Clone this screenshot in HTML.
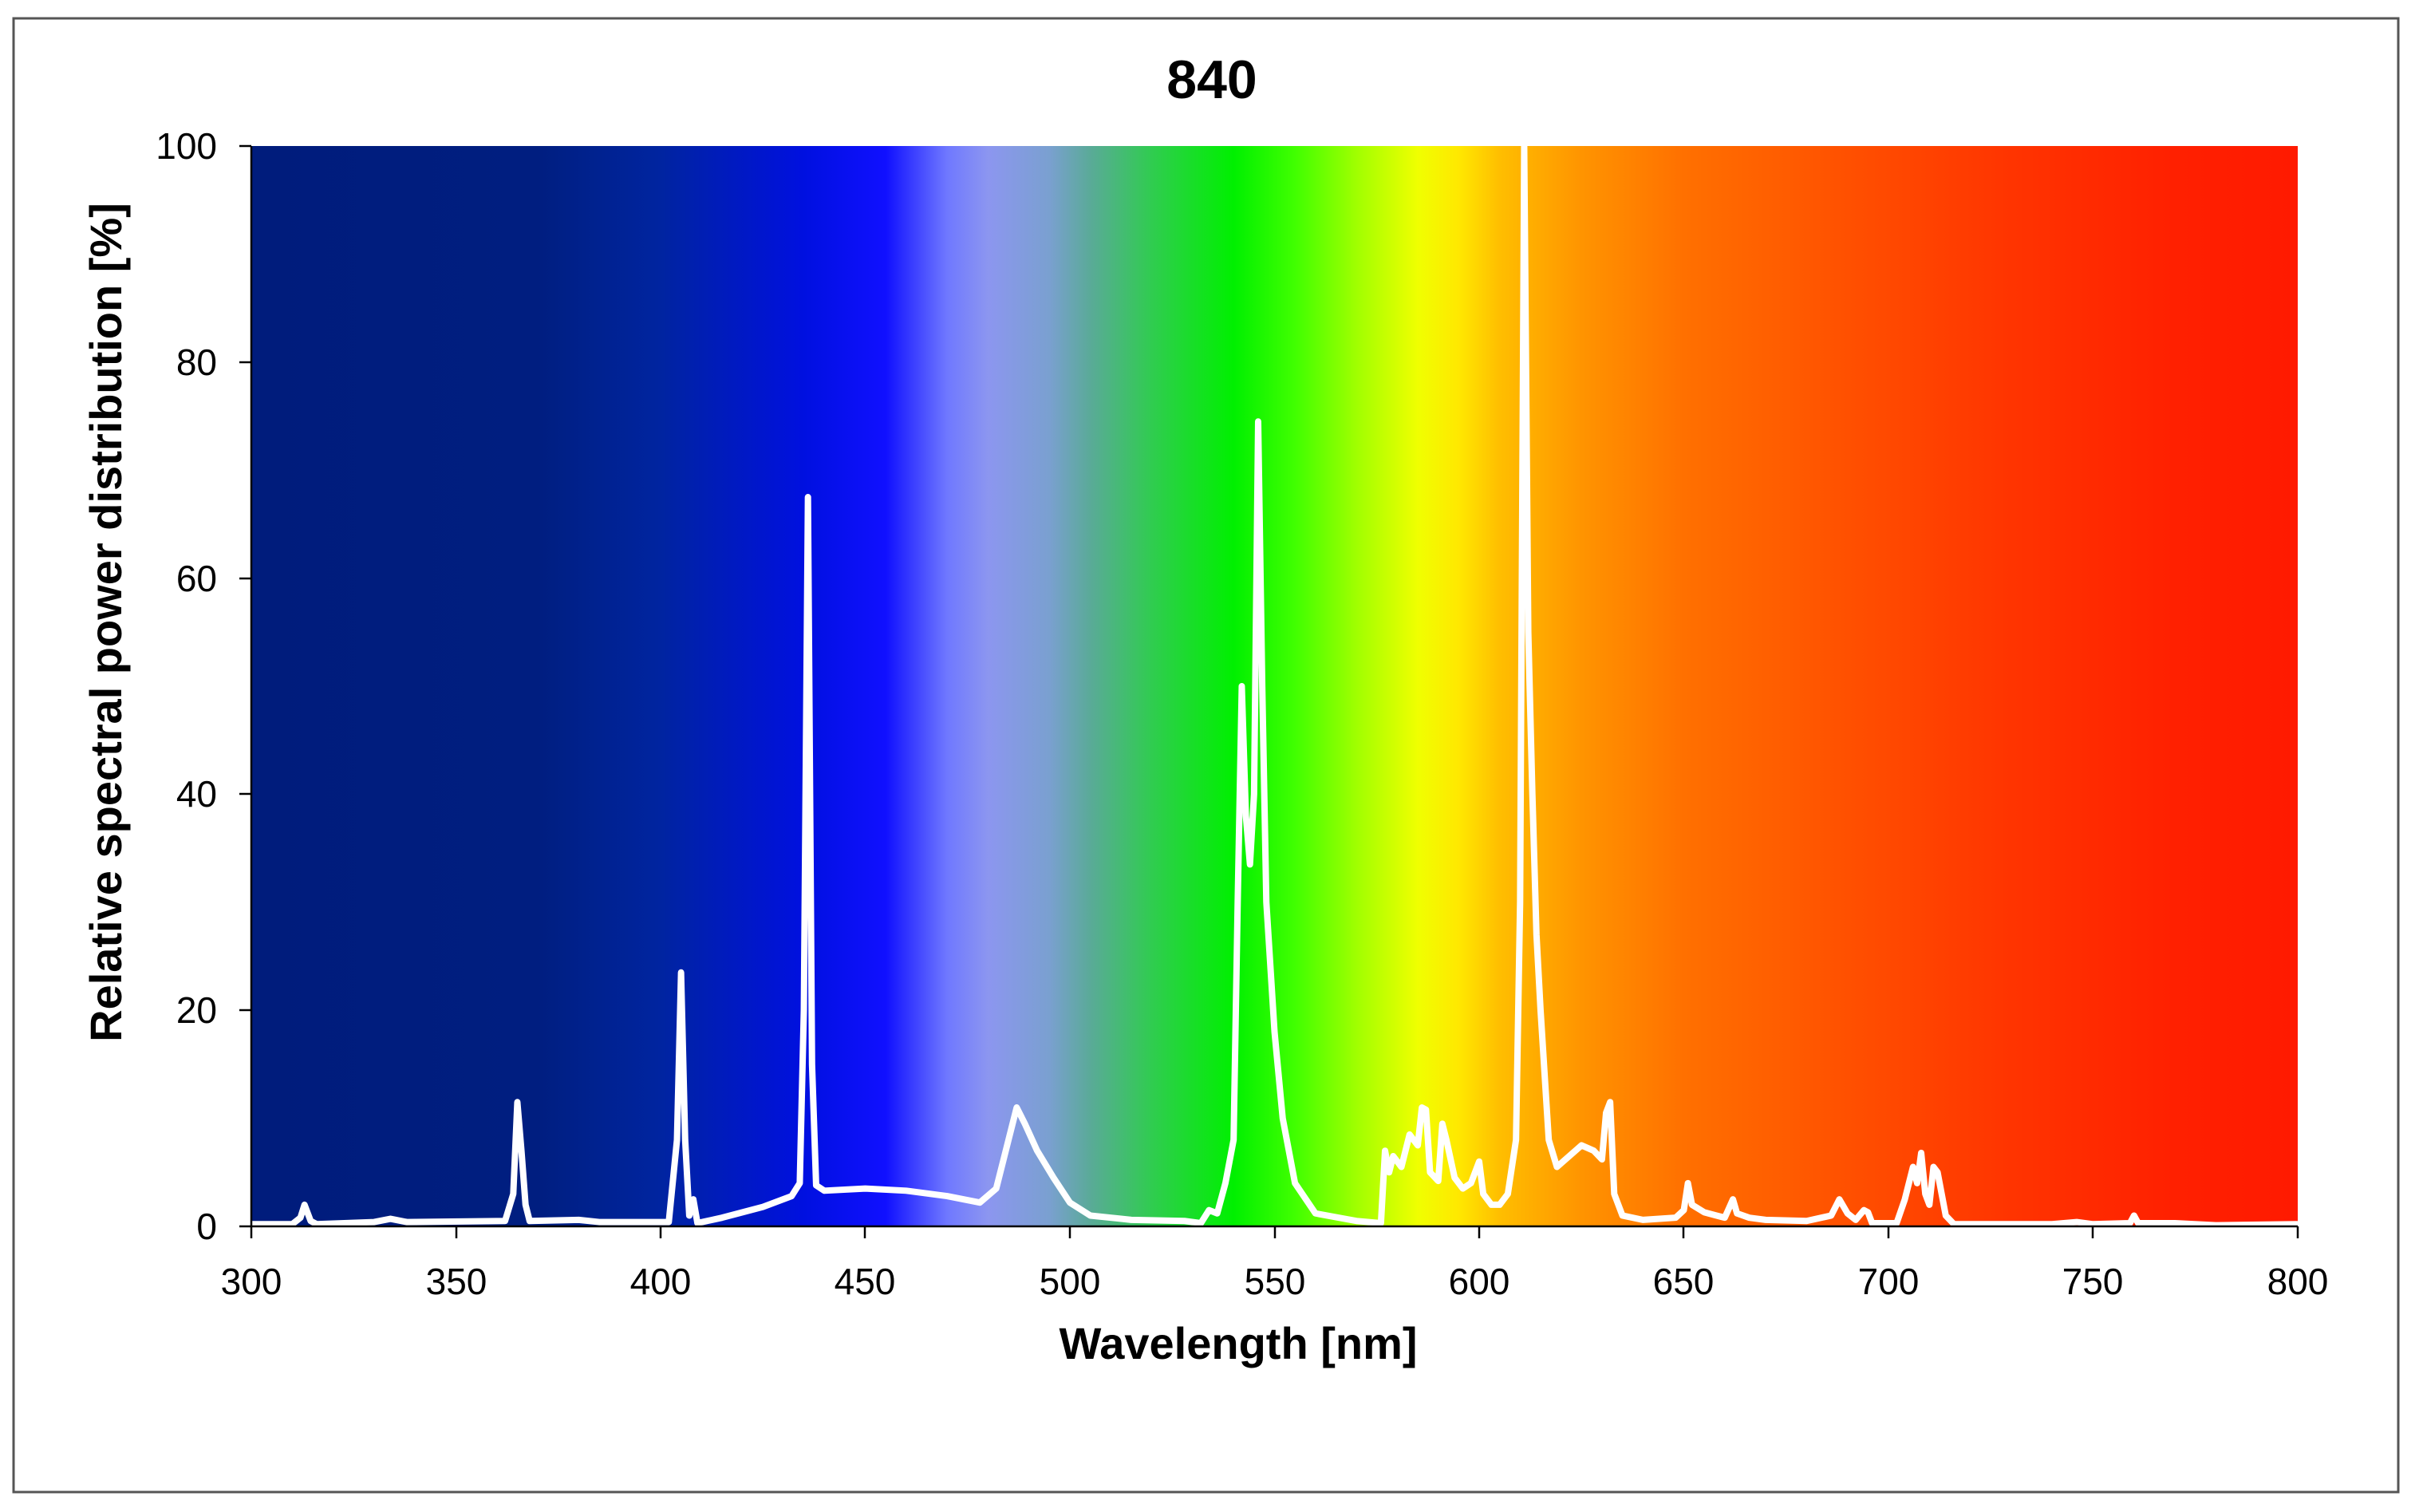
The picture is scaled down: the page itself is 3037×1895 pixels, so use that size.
<!DOCTYPE html>
<html><head><style>
body{margin:0;background:#fff;width:3037px;height:1890px;overflow:hidden}
text{font-family:"Liberation Sans",Arial,sans-serif}
</style></head><body>
<svg width="3037" height="1890" viewBox="0 0 3037 1890" xmlns="http://www.w3.org/2000/svg">
<defs>
<linearGradient id="sp" x1="315" x2="2880" y1="0" y2="0" gradientUnits="userSpaceOnUse">
<stop offset="0" stop-color="#001c7c"/>
<stop offset="0.14" stop-color="#001e80"/>
<stop offset="0.17" stop-color="#002290"/>
<stop offset="0.2" stop-color="#0024a0"/>
<stop offset="0.27" stop-color="#0010e0"/>
<stop offset="0.31" stop-color="#1010ff"/>
<stop offset="0.34" stop-color="#6f78ff"/>
<stop offset="0.36" stop-color="#8c96f0"/>
<stop offset="0.39" stop-color="#7aa0d0"/>
<stop offset="0.41" stop-color="#5aaa98"/>
<stop offset="0.44" stop-color="#30cc50"/>
<stop offset="0.48" stop-color="#00f000"/>
<stop offset="0.51" stop-color="#40ff00"/>
<stop offset="0.54" stop-color="#a0ff00"/>
<stop offset="0.57" stop-color="#f0ff00"/>
<stop offset="0.59" stop-color="#ffe800"/>
<stop offset="0.61" stop-color="#ffbe00"/>
<stop offset="0.65" stop-color="#ff9400"/>
<stop offset="0.7" stop-color="#ff7000"/>
<stop offset="0.78" stop-color="#ff5000"/>
<stop offset="0.86" stop-color="#ff3400"/>
<stop offset="0.94" stop-color="#ff2000"/>
<stop offset="1" stop-color="#ff1a00"/>
</linearGradient>
</defs>
<rect x="17" y="23" width="2989" height="1847" fill="#fff" stroke="#555" stroke-width="3"/>
<rect x="315" y="183" width="2565" height="1354" fill="url(#sp)"/>
<g transform="translate(315,1537) scale(5.13,-13.54) translate(-300,0)">
<path fill="none" stroke="#fff" stroke-width="8" vector-effect="non-scaling-stroke" stroke-linejoin="round" d="M300,0.2 L310,0.2 L312,0.8 L313,2 L314.5,0.5 L316,0.2 L330,0.4 L334,0.7 L338,0.4 L362,0.5 L364,3 L365,11.5 L366,7 L367,2 L368,0.5 L380,0.6 L385,0.4 L402,0.4 L404,8 L405,23.5 L406,8 L407,1 L408,2.5 L409,0.3 L415,0.8 L425,1.8 L432,2.8 L434,4 L435,20 L436,67.5 L437,15 L438,3.8 L440,3.3 L450,3.5 L460,3.3 L470,2.8 L478,2.2 L482,3.5 L485,8 L487,11 L489,9.5 L492,7 L496,4.5 L500,2.2 L505,1 L515,0.6 L528,0.5 L532,0.3 L534,1.5 L536,1.2 L538,4 L540,8 L541,30 L542,50 L543,38 L544,33.5 L545,40 L546,74.5 L547,50 L548,30 L550,18 L552,10 L555,4 L560,1.2 L570,0.5 L576,0.3 L577,7 L578,5 L579,6.5 L581,5.5 L583,8.5 L585,7.5 L586,11 L587,10.8 L588,5 L590,4.2 L591,9.5 L592,8 L594,4.5 L596,3.5 L598,4 L600,6 L601,3 L603,2 L605,2 L607,3 L609,8 L610,30 L611,100 L612,55 L613,40 L614,27 L615,20 L617,8 L619,5.5 L622,6.5 L625,7.5 L628,7 L630,6.2 L631,10.5 L632,11.5 L633,3 L635,1 L640,0.6 L648,0.8 L650,1.5 L651,4 L652,2 L655,1.3 L658,1 L660,0.8 L662,2.5 L663,1.2 L666,0.8 L670,0.6 L680,0.5 L686,1 L688,2.5 L690,1.2 L692,0.6 L694,1.5 L695,1.3 L696,0.3 L702,0.3 L704,2.5 L706,5.5 L707,4 L708,6.8 L709,3 L710,2 L711,5.5 L712,5 L714,1 L716,0.2 L740,0.2 L746,0.4 L750,0.2 L759,0.3 L760,1 L761,0.3 L770,0.3 L780,0.1 L800,0.2"/>
</g>
<g stroke="#000" stroke-width="2.5">
<line x1="315" y1="183" x2="315" y2="1537"/>
<line x1="315" y1="1537" x2="2880" y2="1537"/>
<line x1="300" y1="183" x2="315" y2="183"/>
<line x1="300" y1="454" x2="315" y2="454"/>
<line x1="300" y1="725" x2="315" y2="725"/>
<line x1="300" y1="995" x2="315" y2="995"/>
<line x1="300" y1="1266" x2="315" y2="1266"/>
<line x1="300" y1="1537" x2="315" y2="1537"/>
<line x1="315" y1="1537" x2="315" y2="1552"/>
<line x1="572" y1="1537" x2="572" y2="1552"/>
<line x1="828" y1="1537" x2="828" y2="1552"/>
<line x1="1084" y1="1537" x2="1084" y2="1552"/>
<line x1="1341" y1="1537" x2="1341" y2="1552"/>
<line x1="1598" y1="1537" x2="1598" y2="1552"/>
<line x1="1854" y1="1537" x2="1854" y2="1552"/>
<line x1="2110" y1="1537" x2="2110" y2="1552"/>
<line x1="2367" y1="1537" x2="2367" y2="1552"/>
<line x1="2623" y1="1537" x2="2623" y2="1552"/>
<line x1="2880" y1="1537" x2="2880" y2="1552"/>
</g>
<g font-size="46" text-anchor="end">
<text x="272" y="199">100</text>
<text x="272" y="470">80</text>
<text x="272" y="741">60</text>
<text x="272" y="1011">40</text>
<text x="272" y="1282">20</text>
<text x="272" y="1553">0</text>
</g>
<g font-size="46" text-anchor="middle">
<text x="315" y="1622">300</text>
<text x="572" y="1622">350</text>
<text x="828" y="1622">400</text>
<text x="1084" y="1622">450</text>
<text x="1341" y="1622">500</text>
<text x="1598" y="1622">550</text>
<text x="1854" y="1622">600</text>
<text x="2110" y="1622">650</text>
<text x="2367" y="1622">700</text>
<text x="2623" y="1622">750</text>
<text x="2880" y="1622">800</text>
</g>
<text x="1519" y="123" font-size="68" font-weight="bold" text-anchor="middle">840</text>
<text x="1552" y="1703" font-size="56" font-weight="bold" text-anchor="middle">Wavelength [nm]</text>
<text transform="translate(152,780) rotate(-90)" font-size="56" font-weight="bold" text-anchor="middle">Relative spectral power distribution [%]</text>
</svg>
</body></html>
